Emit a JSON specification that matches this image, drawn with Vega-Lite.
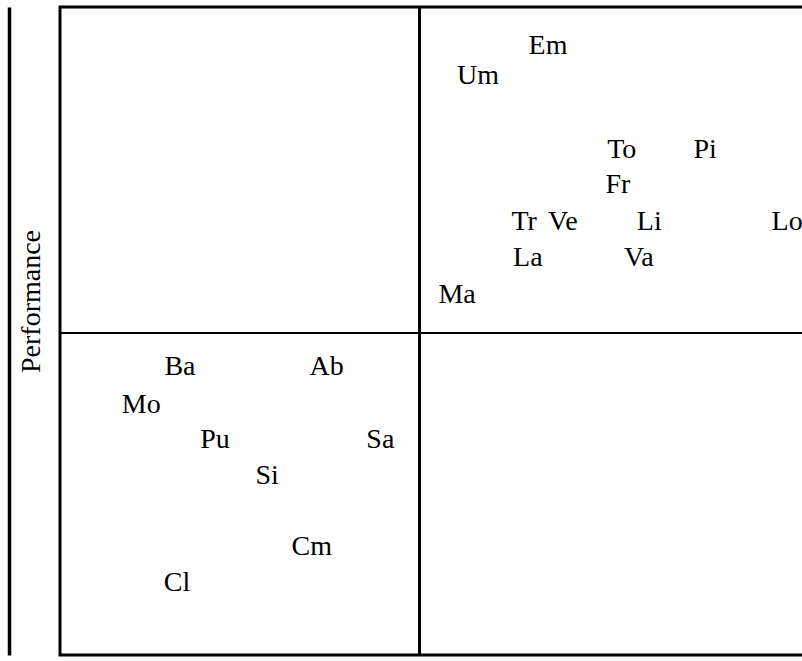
{
  "$schema": "https://vega.github.io/schema/vega-lite/v6.json",
  "width": 745,
  "height": 648,
  "autosize": {"type": "none"},
  "padding": {"left": 60, "top": 7, "right": 0, "bottom": 6},
  "background": "white",
  "config": {"view": {"stroke": "black", "strokeWidth": 3}},
  "data": {
    "values": [
      {"label": "Em", "x": 65.5, "y": 94.0},
      {"label": "Um", "x": 56.1, "y": 89.4},
      {"label": "To", "x": 75.4, "y": 77.9},
      {"label": "Pi", "x": 86.6, "y": 77.9},
      {"label": "Fr", "x": 74.9, "y": 72.5},
      {"label": "Tr", "x": 62.3, "y": 66.8},
      {"label": "Ve", "x": 67.5, "y": 66.8},
      {"label": "Li", "x": 79.1, "y": 66.8},
      {"label": "Lo", "x": 97.6, "y": 66.8},
      {"label": "La", "x": 62.8, "y": 61.3},
      {"label": "Va", "x": 77.7, "y": 61.3},
      {"label": "Ma", "x": 53.3, "y": 55.6},
      {"label": "Ba", "x": 16.1, "y": 44.4},
      {"label": "Ab", "x": 35.8, "y": 44.4},
      {"label": "Mo", "x": 10.9, "y": 38.6},
      {"label": "Pu", "x": 20.8, "y": 33.2},
      {"label": "Sa", "x": 43.0, "y": 33.2},
      {"label": "Si", "x": 27.8, "y": 27.6},
      {"label": "Cm", "x": 33.8, "y": 16.7},
      {"label": "Cl", "x": 15.7, "y": 11.1}
    ]
  },
  "layer": [
    {
      "mark": {"type": "text", "font": "Liberation Serif", "fontSize": 28, "color": "black", "align": "center", "baseline": "middle"},
      "encoding": {
        "x": {"field": "x", "type": "quantitative", "scale": {"domain": [0, 100], "nice": false, "zero": false}, "axis": null},
        "y": {
          "field": "y", "type": "quantitative", "scale": {"domain": [0, 100], "nice": false, "zero": false},
          "axis": {
            "title": "Performance", "labels": false, "ticks": false, "grid": false,
            "domain": true, "domainColor": "black", "domainWidth": 3.5, "offset": 51,
            "titleFont": "Liberation Serif", "titleFontSize": 28, "titleFontWeight": "normal", "titleColor": "black",
            "titleAngle": 270, "titleAlign": "center", "titleBaseline": "middle", "titleX": 22, "titleY": 294
          }
        },
        "text": {"field": "label", "type": "nominal"}
      }
    },
    {
      "mark": {"type": "rule", "color": "black", "strokeWidth": 2},
      "encoding": {"x": {"datum": 48.3}}
    },
    {
      "mark": {"type": "rule", "color": "black", "strokeWidth": 2},
      "encoding": {"y": {"datum": 49.7}}
    }
  ]
}
